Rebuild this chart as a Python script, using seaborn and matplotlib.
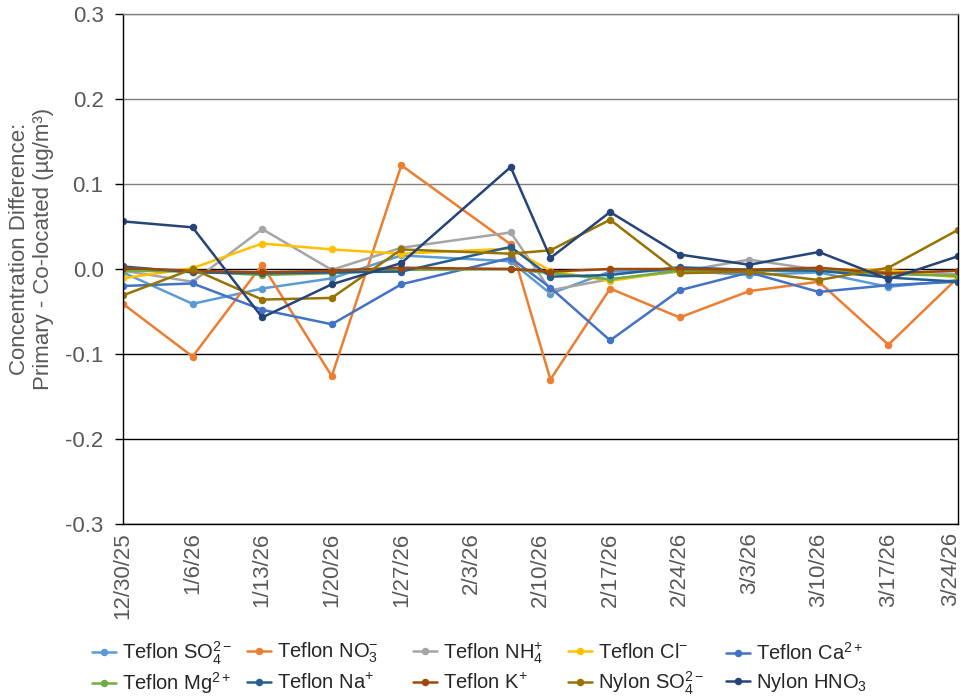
import matplotlib
matplotlib.use("Agg")
import matplotlib.pyplot as plt
import matplotlib.transforms as mtransforms
from matplotlib.lines import Line2D
import pandas as pd
import seaborn as sns

# Sampling dates and primary minus co-located concentration differences (µg/m³)
dates = ["2025-12-30", "2026-01-06", "2026-01-13", "2026-01-20", "2026-01-27",
         "2026-02-07", "2026-02-11", "2026-02-17", "2026-02-24", "2026-03-03",
         "2026-03-10", "2026-03-17", "2026-03-24"]

teflon_so4 = [-0.004, -0.041, -0.023, -0.011, 0.016, 0.009, -0.029, -0.003, -0.002, -0.007, -0.004, -0.021, -0.013]
teflon_no3 = [-0.041, -0.103, 0.005, -0.126, 0.122, 0.029, -0.130, -0.023, -0.057, -0.026, -0.015, -0.089, -0.010]
teflon_nh4 = [-0.002, -0.015, 0.047, -0.001, 0.025, 0.043, -0.025, -0.012, -0.003, 0.011, -0.001, -0.004, -0.006]
teflon_cl = [-0.011, 0.001, 0.030, 0.023, 0.018, 0.024, -0.002, -0.014, -0.002, -0.001, 0.000, -0.001, -0.010]
teflon_ca = [-0.020, -0.017, -0.048, -0.065, -0.018, 0.013, -0.022, -0.084, -0.025, -0.004, -0.027, -0.019, -0.015]
teflon_mg = [-0.002, -0.003, -0.007, -0.005, -0.001, 0.000, -0.005, -0.012, -0.002, -0.002, -0.002, -0.006, -0.008]
teflon_na = [0.003, -0.004, -0.005, -0.004, -0.003, 0.026, -0.009, -0.007, 0.002, -0.001, -0.002, -0.010, -0.015]
teflon_k = [0.001, -0.002, -0.004, -0.002, 0.0015, 0.000, -0.003, 0.000, 0.000, -0.001, 0.0015, -0.005, -0.002]
nylon_so4 = [-0.031, 0.000, -0.036, -0.034, 0.023, 0.018, 0.022, 0.058, -0.005, -0.003, -0.013, 0.0015, 0.046]
nylon_hno3 = [0.056, 0.049, -0.057, -0.018, 0.007, 0.120, 0.013, 0.067, 0.017, 0.005, 0.020, -0.012, 0.015]

series_names = ["Teflon SO4", "Teflon NO3", "Teflon NH4", "Teflon Cl", "Teflon Ca",
                "Teflon Mg", "Teflon Na", "Teflon K", "Nylon SO4", "Nylon HNO3"]
series_values = [teflon_so4, teflon_no3, teflon_nh4, teflon_cl, teflon_ca,
                 teflon_mg, teflon_na, teflon_k, nylon_so4, nylon_hno3]
legend_labels = [r"Teflon SO$_4^{2-}$", r"Teflon NO$_3^{-}$", r"Teflon NH$_4^{+}$",
                 r"Teflon Cl$^{-}$", r"Teflon Ca$^{2+}$", r"Teflon Mg$^{2+}$",
                 r"Teflon Na$^{+}$", r"Teflon K$^{+}$", r"Nylon SO$_4^{2-}$",
                 r"Nylon HNO$_3$"]
colors = ["#5B9BD5", "#ED7D31", "#A5A5A5", "#FFC000", "#4472C4",
          "#70AD47", "#255E91", "#9E480E", "#997300", "#264478"]

y_ticks = [-0.3, -0.2, -0.1, 0.0, 0.1, 0.2, 0.3]

df = pd.concat(
    [pd.DataFrame({"date": pd.to_datetime(dates), "value": vals, "series": name})
     for name, vals in zip(series_names, series_values)],
    ignore_index=True,
)

sns.set_style("white")
plt.rcParams["font.family"] = ["Liberation Sans", "DejaVu Sans"]
plt.rcParams["mathtext.fontset"] = "custom"
plt.rcParams["mathtext.rm"] = "Liberation Sans"
plt.rcParams["mathtext.it"] = "Liberation Sans:italic"
plt.rcParams["mathtext.bf"] = "Liberation Sans:bold"

W, H = 962, 698
fig = plt.figure(figsize=(W / 100, H / 100), dpi=100)
ax = fig.add_axes([123 / W, 1 - 524 / H, (958 - 123) / W, (524 - 14) / H])

LW, MS = 1.8, 5.4
palette = dict(zip(series_names, colors))
sns.lineplot(data=df, x="date", y="value", hue="series", hue_order=series_names,
             palette=palette, marker="o", markersize=MS, markeredgewidth=0,
             linewidth=LW, legend=False, ax=ax)

# Axes limits and ticks
start = pd.Timestamp(dates[0])
end = pd.Timestamp(dates[-1])
ax.set_xlim(start, end)
ax.set_ylim(-0.3, 0.3)
ax.set_yticks(y_ticks)
ax.set_yticklabels([f"{t:.1f}" for t in y_ticks])
week_ticks = pd.date_range(start, end, freq="7D")
ax.set_xticks(week_ticks)
ax.set_xticklabels([f"{d.month}/{d.day}/{d.year % 100:02d}" for d in week_ticks],
                   rotation=90)

ax.tick_params(axis="y", which="major", left=True, length=6, width=1, color="black",
               labelsize=16, labelcolor="#595959", pad=8)
ax.tick_params(axis="x", which="major", bottom=False, length=0, labelsize=16,
               labelcolor="#595959", pad=6)

# Keep the last date label inside the figure edge
last_label = ax.get_xticklabels()[-1]
last_label.set_transform(last_label.get_transform()
                         + mtransforms.ScaledTranslation(-7 / 100, 0, fig.dpi_scale_trans))

# Horizontal gridlines
ax.grid(axis="y", linewidth=1.0)
for val, gl in zip(ax.get_yticks(), ax.get_ygridlines()):
    gl.set_color("#808080" if val > 0 else "#000000")
ax.grid(axis="x", visible=False)

for side in ["left", "bottom", "right"]:
    ax.spines[side].set_color("black")
    ax.spines[side].set_linewidth(1.0)
ax.spines["top"].set_color("#808080")
ax.spines["top"].set_linewidth(1.0)

ax.set_xlabel("")
ax.set_ylabel("")
fig.text(0.033, 1 - 249 / H, "Concentration Difference:\nPrimary - Co-located (µg/m³)",
         rotation=90, ha="center", va="center", multialignment="center",
         fontsize=16, color="#595959", linespacing=1.2)

# Legend: two rows of five entries below the plot, each entry placed on its row
handles = [Line2D([0], [0], color=c, linewidth=LW, marker="o", markersize=MS,
                  markeredgewidth=0) for c in colors]
column_left = [92, 247, 413, 568, 726]
row_center = [653, 683]
for i in range(len(colors)):
    row, col = divmod(i, 5)
    fig.legend([handles[i]], [legend_labels[i]],
               loc="center left",
               bbox_to_anchor=(column_left[col] / W, 1 - row_center[row] / H),
               frameon=False, fontsize=14.5, handlelength=1.2, handletextpad=0.3,
               borderpad=0, borderaxespad=0)

fig.savefig("out.png", dpi=100, facecolor="white")
